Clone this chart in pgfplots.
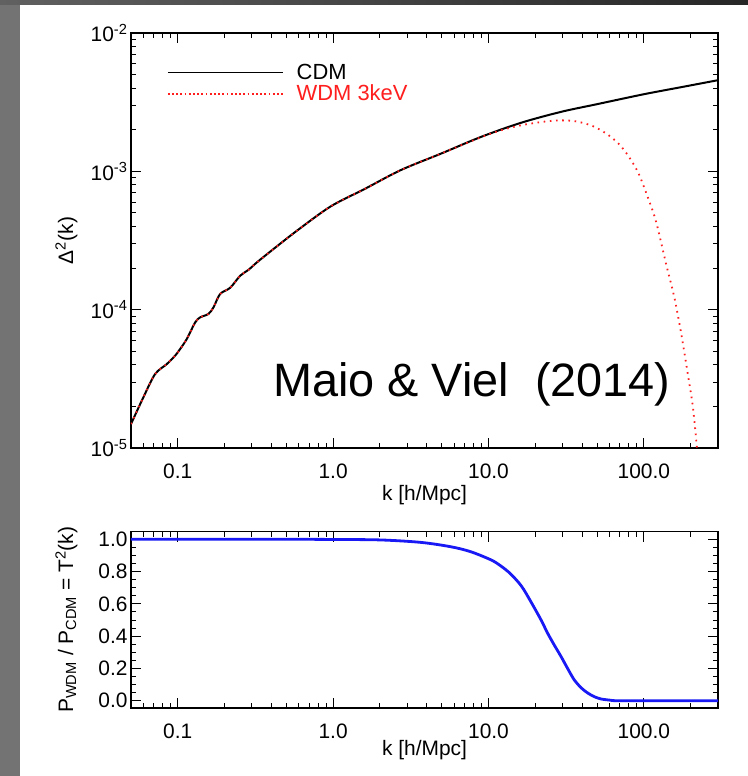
\documentclass[border=0pt]{standalone}
\usepackage{fontspec}
\setmainfont{Liberation Sans}
\usepackage{pgfplots}
\pgfplotsset{compat=1.18}
\definecolor{wdmred}{RGB}{255,30,30}
\definecolor{tblue}{RGB}{25,25,245}

\begin{document}
\begin{tikzpicture}
\useasboundingbox (0bp,0bp) rectangle (748bp,-776bp);
\fill[white] (0bp,0bp) rectangle (748bp,-776bp);
\fill[black!55] (0bp,0bp) rectangle (20bp,-776bp);
\shade[left color=black!62, right color=black!85] (0bp,0bp) rectangle (748bp,-4bp);

% top panel: dimensionless power spectrum
\begin{axis}[
  scale only axis, width=587bp, height=415bp,
  at={(131bp,-448bp)}, anchor=south west,
  xmode=log, xmin=0.05, xmax=300,
  xtick={0.1,1,10,100}, xticklabels={0.1,1.0,10.0,100.0},
  minor xtick={0.05,0.06,0.07,0.08,0.09,0.2,0.3,0.4,0.5,0.6,0.7,0.8,0.9,
               2,3,4,5,6,7,8,9,20,30,40,50,60,70,80,90,200,300},
  ymode=log, ymin=1e-5, ymax=1e-2,
  ytick={1e-5,1e-4,1e-3,1e-2},
  yticklabels={10\textsuperscript{-5},10\textsuperscript{-4},10\textsuperscript{-3},10\textsuperscript{-2}},
  minor ytick={2e-5,3e-5,4e-5,5e-5,6e-5,7e-5,8e-5,9e-5,
               2e-4,3e-4,4e-4,5e-4,6e-4,7e-4,8e-4,9e-4,
               2e-3,3e-3,4e-3,5e-3,6e-3,7e-3,8e-3,9e-3},
  axis line style={line width=1.3bp, black},
  tick style={line width=1bp, black},
  major tick length=10bp, minor tick length=5bp,
  tick align=inside,
  tick label style={font=\fontsize{21}{24}\selectfont},
  xticklabel style={anchor=base, yshift=-30bp},
  xlabel={k [h/Mpc]},
  ylabel={Δ\textsuperscript{2}(k)},
  label style={font=\fontsize{21}{24}\selectfont},
  xlabel style={at={(axis description cs:0.5,0)}, anchor=base, yshift=-52bp},
  ylabel style={at={(axis description cs:-0.110,0.5)}, anchor=center},
  legend style={draw=none, fill=none, inner sep=0pt,
    at={(rel axis cs:0.0608,0.93)}, anchor=north west,
    font=\fontsize{22}{24}\selectfont},
  legend cell align=left,
  legend image code/.code={\draw[#1] (0bp,0bp) -- (115bp,0bp); \path (126bp,0bp);},
]
\addplot[black, line width=2bp, smooth, forget plot] coordinates {
  (0.05,1.49e-5) (0.06,2.32e-5) (0.0714,3.42e-5) (0.0849,4.04e-5)
  (0.0961,4.65e-5) (0.1035,5.19e-5) (0.1143,6.14e-5) (0.1294,8.09e-5)
  (0.1394,8.8e-5) (0.1575,9.31e-5) (0.1698,1.04e-4) (0.1875,1.30e-4)
  (0.2174,1.44e-4) (0.2522,1.76e-4) (0.2851,1.94e-4) (0.3234,2.20e-4)
  (0.414,2.75e-4) (0.586,3.73e-4) (0.962,5.57e-4) (1.6,7.47e-4)
  (2.72,1.02e-3) (5.0,1.35e-3) (8.9,1.77e-3) (16.1,2.24e-3)
  (29.2,2.69e-3) (50,3.06e-3) (100,3.61e-3) (180,4.09e-3) (300,4.56e-3)
};
\addplot[wdmred, line width=1.8bp, smooth, dash pattern=on 1.6bp off 4.6bp, forget plot] coordinates {
  (0.05,1.49e-5) (0.06,2.32e-5) (0.0714,3.42e-5) (0.0849,4.04e-5)
  (0.0961,4.65e-5) (0.1035,5.19e-5) (0.1143,6.14e-5) (0.1294,8.09e-5)
  (0.1394,8.8e-5) (0.1575,9.31e-5) (0.1698,1.04e-4) (0.1875,1.30e-4)
  (0.2174,1.44e-4) (0.2522,1.76e-4) (0.2851,1.94e-4) (0.3234,2.20e-4)
  (0.414,2.75e-4) (0.586,3.73e-4) (0.962,5.57e-4) (1.6,7.47e-4)
  (2.72,1.02e-3) (5.0,1.35e-3) (8.9,1.76e-3) (12,1.98e-3) (16.1,2.15e-3)
  (21.7,2.27e-3) (27,2.33e-3) (32.4,2.33e-3) (38,2.28e-3) (45.7,2.15e-3)
  (53,1.98e-3) (61.5,1.77e-3) (70,1.55e-3) (78.8,1.31e-3) (91.5,9.9e-4)
  (106,6.5e-4) (120,4.3e-4) (139,2.14e-4) (157,1.23e-4) (174,6.7e-5)
  (192,3.4e-5) (207,1.96e-5) (220,9.8e-6)
};
\addlegendimage{black, line width=1.5bp}
\addlegendentry{CDM}
\addlegendimage{wdmred, line width=1.8bp, dash pattern=on 1.8bp off 2.4bp}
\addlegendentry{\textcolor{wdmred}{WDM 3keV}}
\end{axis}

\node[anchor=base west, inner sep=0pt, font=\fontsize{47}{50}\selectfont]
  at (273bp,-396.7bp) {Maio \& Viel\ \ (2014)};

% bottom panel: transfer function
\begin{axis}[
  scale only axis, width=587bp, height=176.3bp,
  at={(131bp,-708bp)}, anchor=south west,
  xmode=log, xmin=0.05, xmax=300,
  xtick={0.1,1,10,100}, xticklabels={0.1,1.0,10.0,100.0},
  minor xtick={0.05,0.06,0.07,0.08,0.09,0.2,0.3,0.4,0.5,0.6,0.7,0.8,0.9,
               2,3,4,5,6,7,8,9,20,30,40,50,60,70,80,90,200,300},
  ymin=-0.045, ymax=1.047,
  ytick={0,0.2,0.4,0.6,0.8,1}, yticklabels={0.0,0.2,0.4,0.6,0.8,1.0},
  minor y tick num=3,
  axis line style={line width=1.3bp, black},
  tick style={line width=1bp, black},
  major tick length=10bp, minor tick length=5bp,
  tick align=inside,
  tick label style={font=\fontsize{21}{24}\selectfont},
  xticklabel style={anchor=base, yshift=-30bp},
  xlabel={k [h/Mpc]},
  ylabel={P\textsubscript{WDM} / P\textsubscript{CDM} = T\textsuperscript{2}(k)},
  label style={font=\fontsize{21}{24}\selectfont},
  xlabel style={at={(axis description cs:0.5,0)}, anchor=base, yshift=-47bp},
  ylabel style={at={(axis description cs:-0.110,0.5)}, anchor=center},
]
\addplot[tblue, line width=2.8bp, smooth] coordinates {
  (0.05,1.0) (0.5,1.0) (1.0,0.999) (2.02,0.996) (3.66,0.981) (5.71,0.954)
  (7.69,0.923) (10.4,0.872) (12.0,0.835) (13.9,0.785) (16.3,0.71)
  (18.7,0.615) (21.8,0.50) (24.0,0.419) (26.5,0.345) (29.3,0.274)
  (32.3,0.20) (35.6,0.130) (39.5,0.080) (43.5,0.048) (48,0.025)
  (53,0.011) (60,0.004) (67,0.0) (100,0.0) (300,0.0)
};
\end{axis}
\end{tikzpicture}
\end{document}
